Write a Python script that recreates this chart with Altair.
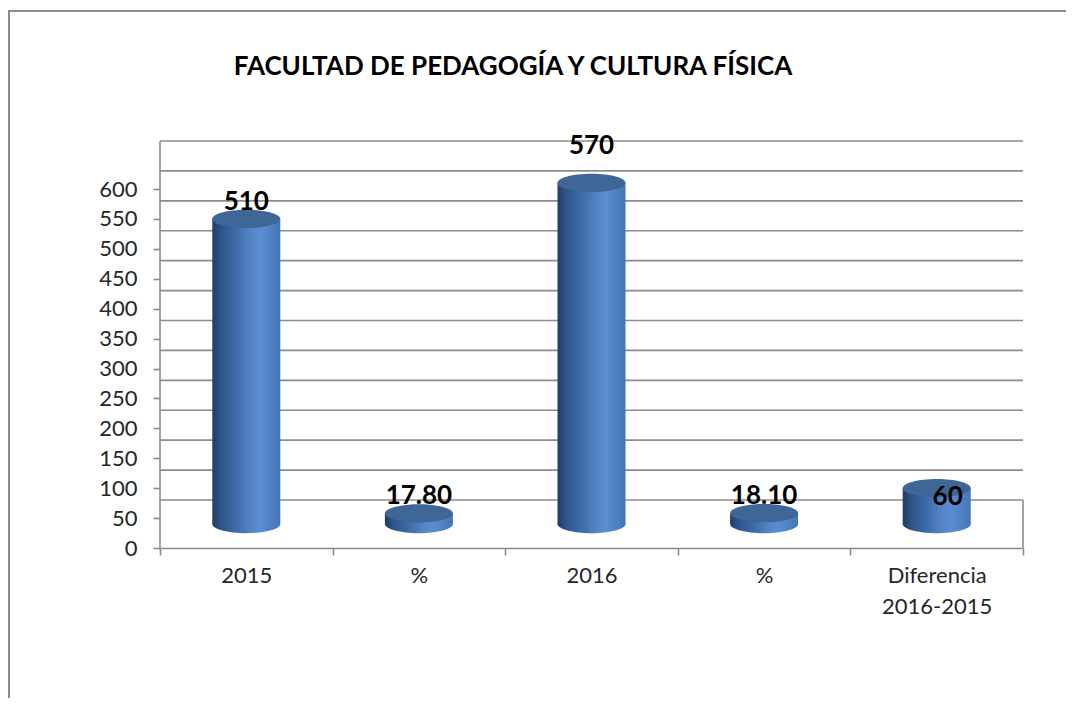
import json
import altair as alt
import pandas as pd

# ---------------- data ----------------
categories = ["2015", "%", "2016", "%", "Diferencia 2016-2015"]
values = [510, 17.80, 570, 18.10, 60]
value_labels = ["510", "17.80", "570", "18.10", "60"]
y_ticks = [0, 50, 100, 150, 200, 250, 300, 350, 400, 450, 500, 550, 600]
title_text = "FACULTAD DE PEDAGOGÍA Y CULTURA FÍSICA"

df = pd.DataFrame({
    "idx": list(range(len(categories))),
    "cat": categories,
    "value": values,
    "label": value_labels,
})
grid_df = pd.DataFrame({"value": y_ticks})
one = pd.DataFrame({"title": [title_text]})

# ---------------- styling ----------------
W, H = 863, 359
DEPTH = 48          # depth of the 3-D floor (px)
MID = 24            # cylinders stand in the middle of the floor
BAR_W = 68
FONT = "Lato"
GRID = "#8c8c8c"
TEXT = "#262626"
TOP_CAP = "#3e6797"

k, c = 0.27, 0.5523
ELLIPSE = (
    f"M -1 0 C -1 {-k*c:.4f} {-c:.4f} {-k} 0 {-k} "
    f"C {c:.4f} {-k} 1 {-k*c:.4f} 1 0 "
    f"C 1 {k*c:.4f} {c:.4f} {k} 0 {k} "
    f"C {-c:.4f} {k} -1 {k*c:.4f} -1 0 Z"
)

body_grad = alt.LinearGradient(
    gradient="linear", x1=0, x2=1, y1=0, y2=0,
    stops=[
        alt.GradientStop(color="#1f3d66", offset=0),
        alt.GradientStop(color="#2e5387", offset=0.12),
        alt.GradientStop(color="#3f6ba7", offset=0.35),
        alt.GradientStop(color="#5688c9", offset=0.6),
        alt.GradientStop(color="#5a8dd0", offset=0.72),
        alt.GradientStop(color="#4e80c2", offset=0.88),
        alt.GradientStop(color="#4474b3", offset=1),
    ],
)

label_lines = [s.split(" ") if " " in s else s for s in categories]
label_expr = json.dumps(label_lines) + "[datum.value]"

x_axis = alt.Axis(
    title=None, labelExpr=label_expr, labelAngle=0,
    tickBand="extent", tickSize=7, tickColor=GRID, tickWidth=1.6,
    domainColor=GRID, domainWidth=1.6,
    labelFont=FONT, labelFontSize=22, labelColor=TEXT,
    labelPadding=10, labelLineHeight=31, grid=False,
)
y_axis = alt.Axis(
    title=None, values=y_ticks, domain=False,
    tickSize=7, tickColor=GRID, tickWidth=1.6,
    labelFont=FONT, labelFontSize=22, labelColor=TEXT,
    labelPadding=16, grid=False, labelOverlap=False,
)
y_scale = alt.Scale(domain=[0, 600], nice=False, zero=True)

x_enc = alt.X("idx:O", scale=alt.Scale(paddingInner=0, paddingOuter=0), axis=x_axis)
y_enc = alt.Y("value:Q", scale=y_scale, axis=y_axis)
y_zero = alt.YDatum(0, scale=y_scale, axis=y_axis)

border = alt.Chart(one).mark_rect(fillOpacity=0, stroke=GRID, strokeWidth=2).encode(
    x=alt.value(-151), x2=alt.value(1200), y=alt.value(-178), y2=alt.value(900)
)

title = alt.Chart(one).mark_text(
    font=FONT, fontSize=26, fontWeight="bold", color="black",
    align="center", baseline="middle",
).encode(x=alt.value(353), y=alt.value(-122), text="title:N")

grid = alt.Chart(grid_df).mark_rule(yOffset=-DEPTH, color=GRID, strokeWidth=1.6).encode(
    y=y_enc
)

left_wall = alt.Chart(one).mark_rule(color=GRID, strokeWidth=1.6).encode(
    x=alt.value(0), y=alt.value(-DEPTH), y2=alt.value(H)
)
right_floor = alt.Chart(one).mark_rule(color=GRID, strokeWidth=1.6).encode(
    x=alt.value(W), y=alt.value(H - DEPTH), y2=alt.value(H)
)

bottom_caps = alt.Chart(df).mark_point(
    shape=ELLIPSE, size=BAR_W ** 2, filled=True, opacity=1, strokeWidth=0,
    color=body_grad, yOffset=-MID,
).encode(x=x_enc, y=y_zero)

bodies = alt.Chart(df).mark_bar(
    size=BAR_W, color=body_grad, yOffset=-MID, y2Offset=-MID
).encode(x=x_enc, y=y_enc, y2=alt.Y2Datum(0))

top_caps = alt.Chart(df).mark_point(
    shape=ELLIPSE, size=BAR_W ** 2, filled=True, opacity=1, strokeWidth=0,
    color=TOP_CAP, yOffset=-MID,
).encode(x=x_enc, y=y_enc)

txt_style = dict(font=FONT, fontSize=26, fontWeight="bold", color="black",
                 baseline="middle", align="center", yOffset=-MID)

labels_std = alt.Chart(df).transform_filter(
    "datum.idx == 0 || datum.idx == 1 || datum.idx == 3"
).mark_text(dy=-17, **txt_style).encode(x=x_enc, y=y_enc, text="label:N")

labels_2016 = alt.Chart(df).transform_filter("datum.idx == 2").mark_text(
    dy=-37, **txt_style
).encode(x=x_enc, y=y_enc, text="label:N")

labels_diff = alt.Chart(df).transform_filter("datum.idx == 4").mark_text(
    dx=11, dy=9, **txt_style
).encode(x=x_enc, y=y_enc, text="label:N")

chart = alt.layer(
    border, title, grid, left_wall, right_floor, bottom_caps, bodies, top_caps,
    labels_std, labels_2016, labels_diff,
).properties(
    width=W, height=H,
    autosize=alt.AutoSizeParams(type="none"),
    padding={"left": 152, "top": 181, "right": 43, "bottom": 150},
).configure_view(strokeWidth=0)

chart.save("out.html", embed_options={"renderer": "svg", "actions": False})
